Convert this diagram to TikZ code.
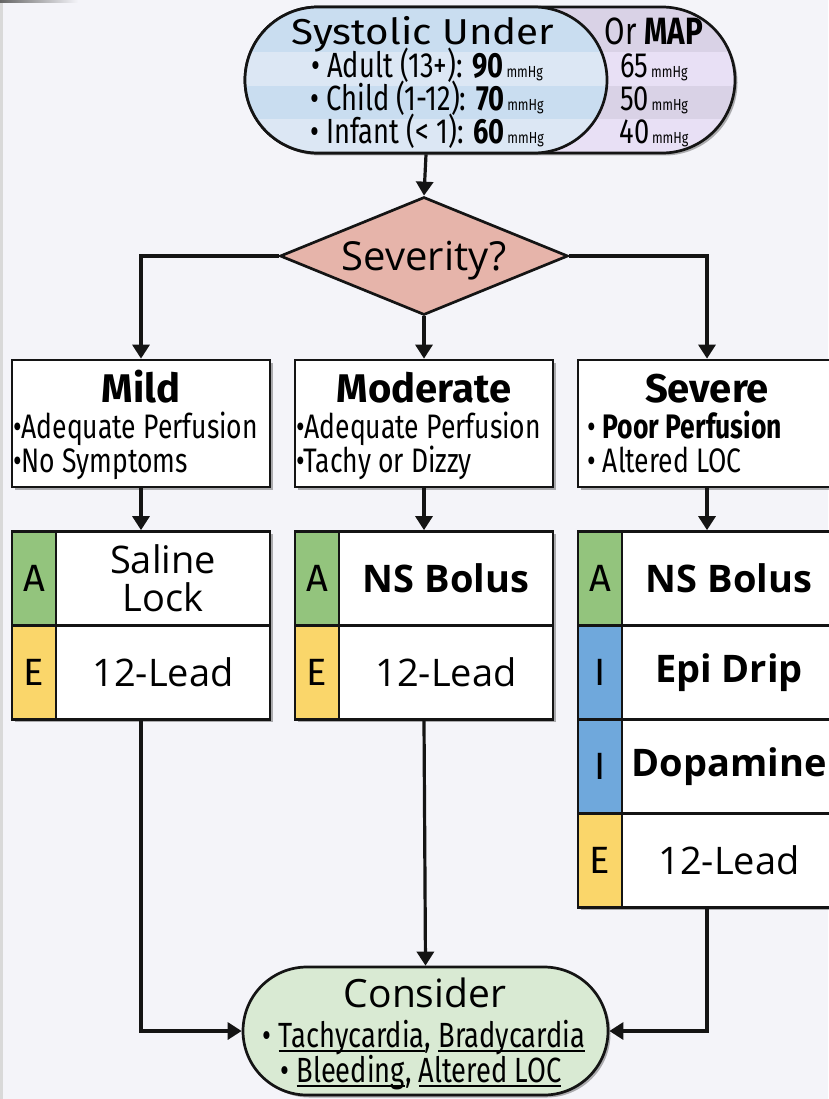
\documentclass[tikz,border=0pt]{standalone}
\usepackage{fontspec}
\setmainfont{Open Sans}
\newfontfamily\condfont[FakeStretch=0.78]{Fira Sans}
\newfontfamily\headfont{Fira Sans}
\newfontfamily\widefont[FakeStretch=1.12]{Fira Sans}
\usetikzlibrary{shapes.geometric,shapes.misc,arrows.meta,shadows,calc}

\definecolor{bg}{HTML}{F4F4F9}
\definecolor{ink}{HTML}{141414}
\definecolor{bluehead}{HTML}{C9DDF0}
\definecolor{bluelite}{HTML}{DCE7F4}
\definecolor{purphead}{HTML}{D9D2E6}
\definecolor{purplite}{HTML}{E8E0F5}
\definecolor{diamondfill}{HTML}{E6B4AA}
\definecolor{tagA}{HTML}{93C47D}
\definecolor{tagI}{HTML}{6FA8DC}
\definecolor{tagE}{HTML}{FAD66A}
\definecolor{considerfill}{HTML}{D9EAD3}

\newcommand{\fs}[1]{\fontsize{#1}{#1}\selectfont}
\newcommand{\unit}{{\fs{16}\,mmHg}}
% underline drawn a few points under the baseline
\newsavebox{\ulinebox}
\newcommand{\ul}[1]{\sbox{\ulinebox}{#1}\rlap{\rule[-5pt]{\wd\ulinebox}{2pt}}\usebox{\ulinebox}}

\tikzset{
  outline/.style={draw=ink, line width=2.7pt},
  softshadow/.style={drop shadow={shadow xshift=2.5pt, shadow yshift=-2.5pt, opacity=0.3, fill=black}},
  box/.style={outline, fill=white, rectangle, inner sep=0pt, softshadow},
  cell/.style={outline, rectangle, inner sep=0pt, minimum height=94pt},
  tagcell/.style={cell, minimum width=44pt, font=\headfont\fs{38}},
  actcell/.style={cell, fill=white, minimum width=214pt, align=center, font=\fs{38}},
  boldact/.style={font=\bfseries\fs{38}},
  pill/.style={outline, rounded rectangle, inner sep=0pt},
  conn/.style={draw=ink, line width=3.2pt, -{Triangle[width=17pt,length=14pt]}},
  txt/.style={inner sep=0pt, anchor=base},
  titletxt/.style={txt, font=\headfont\bfseries\fs{40}},
  bullettxt/.style={inner sep=0pt, anchor=base west, font=\condfont\fs{34}},
  rowtxt/.style={txt, font=\condfont\fs{35}},
}

\begin{document}
\begin{tikzpicture}[x=1pt, y=-1pt]
  % canvas
  \fill[bg] (0,0) rectangle (828,1099);
  \useasboundingbox (0,0) rectangle (828,1099);
  \fill[black!15] (0,0) rectangle (2.5,1099);
  \shade[left color=black!60, right color=bg] (0,0) rectangle (78,3);

  % ---- threshold pill: MAP column behind, systolic column in front
  \fill[black, opacity=0.3, rounded corners=73pt] (247.5,9.5) rectangle (737.5,155.5);
  \begin{scope}
    \clip[rounded corners=73pt] (245,7) rectangle (735,153);
    \fill[purphead] (245,7) rectangle (735,52);
    \fill[purplite] (245,52) rectangle (735,86);
    \fill[purphead] (245,86) rectangle (735,119);
    \fill[purplite] (245,119) rectangle (735,153);
  \end{scope}
  \node[pill, minimum width=490pt, minimum height=146pt] (map) at (490,80) {};
  \begin{scope}
    \clip[rounded corners=73pt] (245,7) rectangle (607,153);
    \fill[bluehead] (245,7) rectangle (607,52);
    \fill[bluelite] (245,52) rectangle (607,86);
    \fill[bluehead] (245,86) rectangle (607,119);
    \fill[bluelite] (245,119) rectangle (607,153);
  \end{scope}
  \node[pill, minimum width=362pt, minimum height=146pt] (sys) at (426,80) {};

  \node[txt, font=\widefont\fs{36}] (sysT) at (423,45) {Systolic Under};
  \node[rowtxt] (sys1) at (427,78) {• Adult (13+): \textbf{90}\unit};
  \node[rowtxt] (sys2) at (427,111) {• Child (1-12): \textbf{70}\unit};
  \node[rowtxt] (sys3) at (427,144) {• Infant (< 1): \textbf{60}\unit};
  \node[txt, font=\condfont\fs{38}] (mapT) at (654,45) {Or \textbf{MAP}};
  \node[rowtxt] (map1) at (654,78) {65\unit};
  \node[rowtxt] (map2) at (654,111) {50\unit};
  \node[rowtxt] (map3) at (654,144) {40\unit};

  % ---- decision
  \node[diamond, outline, fill=diamondfill, aspect=2.4, inner sep=0pt,
        minimum width=288pt, minimum height=118pt, text height=38pt, text depth=10pt,
        font=\fs{40}] (sev) at (424,256) {Severity?};

  % ---- severity boxes
  \node[box, minimum width=258pt, minimum height=127pt] (mild) at (141,423.5) {};
  \node[box, minimum width=258pt, minimum height=127pt] (mod)  at (424,423.5) {};
  \node[box, minimum width=258pt, minimum height=127pt] (sevr) at (707,423.5) {};

  \node[titletxt] (mildT) at (141,402) {Mild};
  \node[bullettxt] (mild1) at (13,438) {•Adequate Perfusion};
  \node[bullettxt] (mild2) at (13,472) {•No Symptoms};
  \node[titletxt] (modT) at (424,402) {Moderate};
  \node[bullettxt] (mod1) at (296,438) {•Adequate Perfusion};
  \node[bullettxt] (mod2) at (296,472) {•Tachy or Dizzy};
  \node[titletxt] (sevrT) at (707,402) {Severe};
  \node[bullettxt] (sevr1) at (587,438) {• \textbf{Poor Perfusion}};
  \node[bullettxt] (sevr2) at (587,472) {• Altered LOC};

  % ---- treatment plans
  \node[box, minimum width=258pt, minimum height=188pt] (mildplan) at (141,625.5) {};
  \node[tagcell, fill=tagA] (mildA) at (34,578.5) {A};
  \node[actcell] (mildAct) at (163,578.5) {\fontsize{38}{37}\selectfont Saline\\Lock};
  \node[tagcell, fill=tagE] (mildE) at (34,672.5) {E};
  \node[actcell] (mildEct) at (163,672.5) {12-Lead};

  \node[box, minimum width=258pt, minimum height=188pt] (modplan) at (424,625.5) {};
  \node[tagcell, fill=tagA] (modA) at (317,578.5) {A};
  \node[actcell, boldact] (modAct) at (446,578.5) {NS Bolus};
  \node[tagcell, fill=tagE] (modE) at (317,672.5) {E};
  \node[actcell] (modEct) at (446,672.5) {12-Lead};

  \node[box, minimum width=258pt, minimum height=376pt] (sevplan) at (707,719.5) {};
  \node[tagcell, fill=tagA] (sevA) at (600,578.5) {A};
  \node[actcell, boldact] (sevAct) at (729,578.5) {NS Bolus};
  \node[tagcell, fill=tagI] (sevI1) at (600,672.5) {I};
  \node[actcell, boldact] (sevI1ct) at (729,672.5) {Epi Drip};
  \node[tagcell, fill=tagI] (sevI2) at (600,766.5) {I};
  \node[actcell, boldact] (sevI2ct) at (729,766.5) {Dopamine};
  \node[tagcell, fill=tagE] (sevE) at (600,860.5) {E};
  \node[actcell] (sevEct) at (729,860.5) {12-Lead};

  % ---- final reminder
  \node[pill, fill=considerfill, softshadow, minimum width=365pt, minimum height=128pt] (cons) at (425.5,1031) {};
  \node[txt, font=\fs{39}] (consT) at (425,1007) {Consider};
  \node[txt, font=\condfont\fs{35}] (cons1) at (424,1047) {• \ul{Tachycardia}, \ul{Bradycardia}};
  \node[txt, font=\condfont\fs{35}] (cons2) at (421,1082) {• \ul{Bleeding}, \ul{Altered LOC}};

  % ---- connectors
  \draw[conn] (sys.south) -- (sev.north);
  \draw[conn] (sev.west) -| (mild.north);
  \draw[conn] (sev.south) -- (mod.north);
  \draw[conn] (sev.east) -| (sevr.north);
  \draw[conn] (mild.south) -- (mildplan.north);
  \draw[conn] (mod.south) -- (modplan.north);
  \draw[conn] (sevr.south) -- (sevplan.north);
  \draw[conn] (mildplan.south) |- (cons.west);
  \draw[conn] (modplan.south) -- (cons.north);
  \draw[conn] (sevplan.south) |- (cons.east);
\end{tikzpicture}
\end{document}
